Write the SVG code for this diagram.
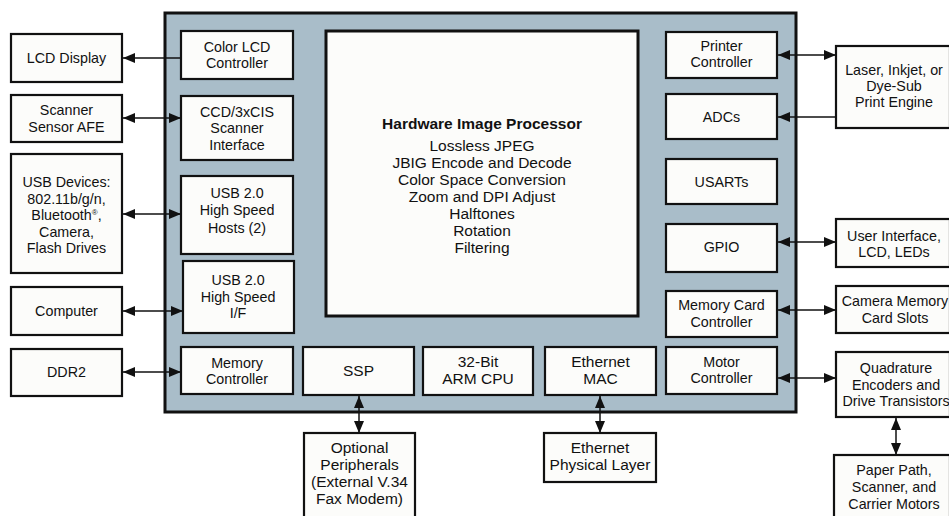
<svg xmlns="http://www.w3.org/2000/svg" width="949" height="516" viewBox="0 0 949 516">
<defs>
<style>
.box{fill:#fcfcfa;stroke:#111;stroke-width:2.2}
.chip{fill:#a9bdc9;stroke:#111;stroke-width:3}
.hip{fill:#fcfcfa;stroke:#111;stroke-width:3}
text{font-family:"Liberation Sans",Arial,sans-serif;font-size:14.3px;fill:#111;text-anchor:middle}
.b{font-weight:bold}
.L{font-size:15.5px}
.c{fill:none;stroke:#111;stroke-width:1.5}
</style>
<marker id="ah" viewBox="0 0 12 10" refX="12" refY="5" markerWidth="12" markerHeight="10" markerUnits="userSpaceOnUse" orient="auto-start-reverse">
<path d="M0,0 L12,5 L0,10 z" fill="#111"/>
</marker>
</defs>
<rect width="949" height="516" fill="#ffffff"/>

<g id="chip"><rect class="chip" x="165" y="13" width="631" height="399"/></g>

<g id="connectors">
<line class="c" x1="181" y1="58" x2="123" y2="58" marker-end="url(#ah)"/>
<line class="c" x1="123" y1="118" x2="181" y2="118" marker-start="url(#ah)" marker-end="url(#ah)"/>
<line class="c" x1="123" y1="214" x2="181" y2="214" marker-start="url(#ah)" marker-end="url(#ah)"/>
<line class="c" x1="123" y1="311" x2="183" y2="311" marker-start="url(#ah)" marker-end="url(#ah)"/>
<line class="c" x1="123" y1="372" x2="181" y2="372" marker-start="url(#ah)" marker-end="url(#ah)"/>
<line class="c" x1="778" y1="55" x2="836" y2="55" marker-start="url(#ah)" marker-end="url(#ah)"/>
<line class="c" x1="836" y1="117" x2="778" y2="117" marker-end="url(#ah)"/>
<line class="c" x1="778" y1="242" x2="836" y2="242" marker-start="url(#ah)" marker-end="url(#ah)"/>
<line class="c" x1="778" y1="310" x2="836" y2="310" marker-start="url(#ah)" marker-end="url(#ah)"/>
<line class="c" x1="778" y1="378" x2="836" y2="378" marker-start="url(#ah)" marker-end="url(#ah)"/>
<line class="c" x1="896" y1="418" x2="896" y2="455" marker-start="url(#ah)" marker-end="url(#ah)"/>
<line class="c" x1="359" y1="396" x2="359" y2="433" marker-start="url(#ah)" marker-end="url(#ah)"/>
<line class="c" x1="600" y1="396" x2="600" y2="433" marker-start="url(#ah)" marker-end="url(#ah)"/>
</g>

<g id="lcd-display"><rect class="box" x="11" y="34" width="111" height="48"/><text x="66.5" y="63">LCD Display</text></g>
<g id="scanner-afe"><rect class="box" x="11" y="95" width="111" height="47"/><text x="66.5" y="115">Scanner</text><text x="66.5" y="132">Sensor AFE</text></g>
<g id="usb-devices"><rect class="box" x="11" y="154" width="111" height="119"/><text x="66.5" y="187">USB Devices:</text><text x="66.5" y="203.5">802.11b/g/n,</text><text x="66.5" y="220">Bluetooth<tspan font-size="8" dy="-5">®</tspan><tspan dy="5">,</tspan></text><text x="66.5" y="236.5">Camera,</text><text x="66.5" y="253">Flash Drives</text></g>
<g id="computer"><rect class="box" x="11" y="287" width="111" height="48"/><text x="66.5" y="316">Computer</text></g>
<g id="ddr2"><rect class="box" x="11" y="349" width="111" height="47"/><text x="66.5" y="377">DDR2</text></g>

<g id="color-lcd-controller"><rect class="box" x="181" y="31" width="112" height="48"/><text x="237" y="52">Color LCD</text><text x="237" y="68">Controller</text></g>
<g id="scanner-interface"><rect class="box" x="181" y="96" width="112" height="64"/><text x="237" y="116.5">CCD/3xCIS</text><text x="237" y="133">Scanner</text><text x="237" y="149.5">Interface</text></g>
<g id="usb-hosts"><rect class="box" x="181" y="176" width="112" height="78"/><text x="237" y="198">USB 2.0</text><text x="237" y="215">High Speed</text><text x="237" y="232.5">Hosts (2)</text></g>
<g id="usb-if"><rect class="box" x="183" y="261" width="111" height="72"/><text x="238" y="285">USB 2.0</text><text x="238" y="302">High Speed</text><text x="238" y="318">I/F</text></g>
<g id="memory-controller"><rect class="box" x="181" y="347" width="112" height="47"/><text x="237" y="368">Memory</text><text x="237" y="384">Controller</text></g>

<g id="image-processor"><rect class="hip" x="326" y="31" width="312" height="285"/>
<text class="b L" x="482" y="129">Hardware Image Processor</text>
<text class="L" x="482" y="151">Lossless JPEG</text>
<text class="L" x="482" y="168">JBIG Encode and Decode</text>
<text class="L" x="482" y="185">Color Space Conversion</text>
<text class="L" x="482" y="202">Zoom and DPI Adjust</text>
<text class="L" x="482" y="219">Halftones</text>
<text class="L" x="482" y="236">Rotation</text>
<text class="L" x="482" y="253">Filtering</text></g>

<g id="ssp"><rect class="box" x="303" y="347" width="111" height="48"/><text class="L" x="358.5" y="376">SSP</text></g>
<g id="arm-cpu"><rect class="box" x="423" y="347" width="110" height="48"/><text class="L" x="478" y="367">32-Bit</text><text class="L" x="478" y="384">ARM CPU</text></g>
<g id="ethernet-mac"><rect class="box" x="545" y="347" width="111" height="48"/><text class="L" x="600.5" y="367">Ethernet</text><text class="L" x="600.5" y="384">MAC</text></g>

<g id="printer-controller"><rect class="box" x="666" y="32" width="111" height="46"/><text x="721.5" y="51">Printer</text><text x="721.5" y="67">Controller</text></g>
<g id="adcs"><rect class="box" x="666" y="94" width="111" height="45"/><text x="721.5" y="122">ADCs</text></g>
<g id="usarts"><rect class="box" x="666" y="159" width="111" height="45"/><text x="721.5" y="186.5">USARTs</text></g>
<g id="gpio"><rect class="box" x="666" y="224" width="111" height="48"/><text x="721.5" y="252">GPIO</text></g>
<g id="memory-card-controller"><rect class="box" x="666" y="291" width="111" height="46"/><text x="721.5" y="310">Memory Card</text><text x="721.5" y="327">Controller</text></g>
<g id="motor-controller"><rect class="box" x="666" y="347" width="111" height="47"/><text x="721.5" y="367">Motor</text><text x="721.5" y="383">Controller</text></g>

<g id="print-engine"><rect class="box" x="836" y="46" width="114" height="82"/><text x="894" y="75">Laser, Inkjet, or</text><text x="894" y="91">Dye-Sub</text><text x="894" y="107">Print Engine</text></g>
<g id="user-interface"><rect class="box" x="836" y="219" width="114" height="48"/><text x="894" y="241">User Interface,</text><text x="894" y="257">LCD, LEDs</text></g>
<g id="memory-card-slots"><rect class="box" x="836" y="286" width="114" height="47"/><text x="895" y="306">Camera Memory</text><text x="895" y="323">Card Slots</text></g>
<g id="quadrature"><rect class="box" x="836" y="352" width="114" height="65"/><text x="896" y="373">Quadrature</text><text x="896" y="389.5">Encoders and</text><text x="896" y="406">Drive Transistors</text></g>
<g id="motors"><rect class="box" x="834" y="455" width="116" height="64"/><text x="894" y="475">Paper Path,</text><text x="894" y="492">Scanner, and</text><text x="894" y="509">Carrier Motors</text></g>

<g id="optional-peripherals"><rect class="box" x="304" y="433" width="111" height="86"/><text class="L" x="359.5" y="453">Optional</text><text class="L" x="359.5" y="470">Peripherals</text><text class="L" x="359.5" y="487">(External V.34</text><text class="L" x="359.5" y="504">Fax Modem)</text></g>
<g id="ethernet-phy"><rect class="box" x="544" y="433" width="112" height="49"/><text class="L" x="600" y="453">Ethernet</text><text class="L" x="600" y="470">Physical Layer</text></g>
</svg>
